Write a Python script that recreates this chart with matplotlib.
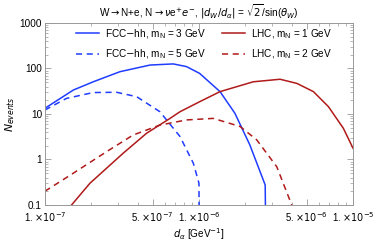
import matplotlib.pyplot as plt
import numpy as np
from matplotlib.ticker import FixedLocator, LogLocator, NullFormatter

plt.rcParams["font.family"] = ["Liberation Sans", "DejaVu Sans"]
plt.rcParams["mathtext.fontset"] = "dejavusans"

# FCC-hh, m_N = 3 GeV
fcc3_d = [1.0e-7, 1.53e-7, 2.06e-7, 3.07e-7, 4.81e-7, 6.81e-7, 8.3e-7, 1.01e-6,
          1.37e-6, 1.71e-6, 2.14e-6, 2.69e-6, 2.72e-6]
fcc3_n = [13.3, 33.6, 51, 85, 119, 126, 110, 78, 31, 10.4, 2.08, 0.275, 0.01]
# FCC-hh, m_N = 5 GeV
fcc5_d = [1.0e-7, 1.38e-7, 2.06e-7, 2.92e-7, 3.94e-7, 5.58e-7, 7.53e-7, 9.2e-7,
          1.0e-6, 1.005e-6]
fcc5_n = [12.2, 22, 29.6, 30, 24, 11.2, 3.2, 0.82, 0.3, 0.01]
# LHC, m_N = 1 GeV
lhc1_d = [1.49e-7, 1.96e-7, 3.22e-7, 4.57e-7, 6.49e-7, 7.53e-7, 1.01e-6, 1.37e-6,
          2.25e-6, 3.36e-6, 4.32e-6, 5.53e-6, 6.92e-6, 8.65e-6, 1.0e-5]
lhc1_n = [0.1, 0.3, 1.37, 3.77, 8.0, 11.2, 18.6, 31, 51, 58, 47, 31, 14.5, 4.85, 1.76]
# LHC, m_N = 2 GeV
lhc2_d = [1.0e-7, 1.53e-7, 2.51e-7, 3.74e-7, 5.58e-7, 8.3e-7, 1.24e-6, 1.85e-6,
          2.37e-6, 3.2e-6, 4.0e-6]
lhc2_n = [0.2, 0.5, 1.48, 3.45, 5.7, 7.4, 8.0, 5.3, 2.7, 0.69, 0.1]

blue = "#1f3cff"
red = "#b01a1a"

fig = plt.figure(figsize=(3.74, 2.42), dpi=100)
ax = fig.add_axes([0.12, 0.153, 0.824, 0.752])

ax.plot(fcc3_d, fcc3_n, color=blue, lw=1.1, label=r"FCC$-$hh, m$_\mathregular{N}$ = 3 GeV")
ax.plot(fcc5_d, fcc5_n, color=blue, lw=1.1, ls=(0, (4, 3)), label=r"FCC$-$hh, m$_\mathregular{N}$ = 5 GeV")
ax.plot(lhc1_d, lhc1_n, color=red, lw=1.1, label=r"LHC, m$_\mathregular{N}$ = 1 GeV")
ax.plot(lhc2_d, lhc2_n, color=red, lw=1.1, ls=(0, (4, 3)), label=r"LHC, m$_\mathregular{N}$ = 2 GeV")

ax.set_xscale("log")
ax.set_yscale("log")
ax.set_xlim(1e-7, 1e-5)
ax.set_ylim(0.1, 1000)

xt = [1e-7, 5e-7, 1e-6, 5e-6, 1e-5]
xl = [r"1. $\times 10^{-7}$", r"5. $\times 10^{-7}$", r"1. $\times 10^{-6}$",
      r"5. $\times 10^{-6}$", r"1. $\times 10^{-5}$"]
ax.xaxis.set_major_locator(FixedLocator(xt))
ax.set_xticklabels(xl)
ax.xaxis.set_minor_locator(LogLocator(base=10, subs=np.arange(2, 10)))
ax.xaxis.set_minor_formatter(NullFormatter())
yt = [0.1, 1, 10, 100, 1000]
ax.yaxis.set_major_locator(FixedLocator(yt))
ax.set_yticklabels(["0.1", "1", "10", "100", "1000"])
ax.yaxis.set_minor_locator(LogLocator(base=10, subs=np.arange(2, 10)))
ax.yaxis.set_minor_formatter(NullFormatter())

ax.tick_params(which="both", direction="in", top=True, right=True, color="#999999",
               labelsize=7.2)
ax.tick_params(axis="x", pad=3.5, labelsize=6.9)
ax.tick_params(axis="y", pad=2)
ax.tick_params(which="major", length=4, width=0.6)
ax.tick_params(which="minor", length=2, width=0.5)
for s in ax.spines.values():
    s.set_color("#999999")
    s.set_linewidth(0.7)

ax.set_xlabel(r"$d_\alpha$ [GeV$^{-1}$]", fontsize=7.2, labelpad=2)
ax.set_ylabel(r"$N_{events}$", fontsize=7.8, labelpad=2)
ax.set_title(r"W$\rightarrow$N+e, N$\rightarrow\nu$e$^{+}$$e^{-}$, $|d_W/d_\alpha|$ = $\sqrt{2}$/sin($\theta_W$)",
             fontsize=7.2, pad=5)

ax.legend(loc="upper left", bbox_to_anchor=(0.10, 0.978), ncol=2, frameon=False,
          fontsize=7.2, handlelength=2.3, handletextpad=0.6, columnspacing=1.6,
          labelspacing=0.7, borderpad=0, borderaxespad=0)

fig.savefig("out.png", dpi=100)
